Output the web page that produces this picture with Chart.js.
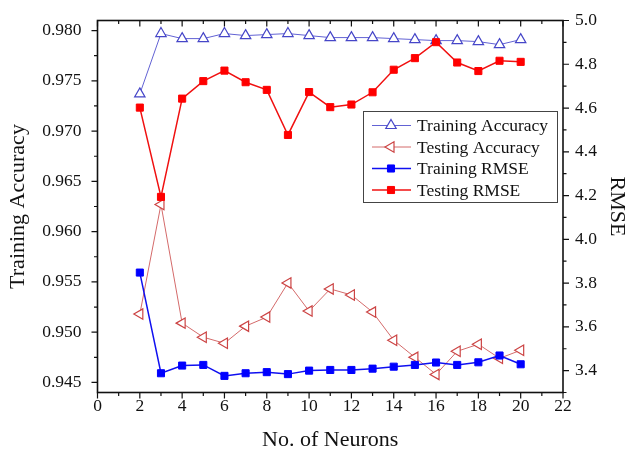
<!DOCTYPE html>
<html>
<head>
<meta charset="utf-8">
<title>No. of Neurons</title>
<script src="https://cdn.jsdelivr.net/npm/chart.js@4.4.1/dist/chart.umd.min.js"></script>
<style>
  html, body { margin: 0; padding: 0; background: #fff; }
  canvas { display: block; }
</style>
</head>
<body>
<canvas id="neuronChart" width="632" height="457"></canvas>
<script>
// accuracy (left axis) and RMSE (right axis) against hidden neuron count
const neurons   = [2, 3, 4, 5, 6, 7, 8, 9, 10, 11, 12, 13, 14, 15, 16, 17, 18, 19, 20];
const trainAcc  = [0.9737, 0.9797, 0.9792, 0.9792, 0.9797, 0.9795, 0.9796, 0.9797, 0.9795, 0.9793,
                   0.9793, 0.9793, 0.9792, 0.9791, 0.9790, 0.9790, 0.9789, 0.9786, 0.9791];
const testAcc   = [0.9518, 0.9627, 0.9509, 0.9495, 0.9489, 0.9506, 0.9515, 0.9549, 0.9521, 0.9543,
                   0.9537, 0.9520, 0.9492, 0.9475, 0.9458, 0.9481, 0.9488, 0.9474, 0.9482];
const trainRmse = [3.848, 3.388, 3.423, 3.426, 3.376, 3.388, 3.393, 3.384, 3.400, 3.403,
                   3.403, 3.409, 3.418, 3.426, 3.437, 3.426, 3.438, 3.469, 3.429];
const testRmse  = [4.602, 4.194, 4.643, 4.723, 4.771, 4.718, 4.683, 4.477, 4.673, 4.604,
                   4.616, 4.672, 4.775, 4.828, 4.901, 4.808, 4.769, 4.816, 4.811];

const xTicks    = [0, 2, 4, 6, 8, 10, 12, 14, 16, 18, 20, 22];
const accTicks  = [0.945, 0.950, 0.955, 0.960, 0.965, 0.970, 0.975, 0.980];
const rmseTicks = [3.4, 3.6, 3.8, 4.0, 4.2, 4.4, 4.6, 4.8, 5.0];

const serif = "'Liberation Serif', 'Times New Roman', serif";
const ink = '#111';

function points(ys) {
  return neurons.map((n, i) => ({ x: n, y: ys[i] }));
}

// major ticks plus the halfway minor ones, kept inside the scale range
function withMinor(major, min, max) {
  const out = major.map(v => ({ v, major: true }));
  for (let i = 0; i < major.length - 1; i++) {
    out.push({ v: (major[i] + major[i + 1]) / 2, major: false });
  }
  const step = major[1] - major[0];
  const lo = major[0] - step / 2, hi = major[major.length - 1] + step / 2;
  if (lo >= min) out.push({ v: lo, major: false });
  if (hi <= max) out.push({ v: hi, major: false });
  return out;
}

// fixed axis boxes, no extra room for overhanging end labels
function fixSize(size) {
  return s => {
    if (s.isHorizontal()) s.height = size; else s.width = size;
    s.paddingTop = s.paddingBottom = s.paddingLeft = s.paddingRight = 0;
  };
}

function drawMarker(ctx, ds, x, y) {
  const r = ds.pointRadius;
  ctx.save();
  ctx.translate(x, y);
  ctx.rotate((ds.pointRotation || 0) * Math.PI / 180);
  ctx.beginPath();
  if (ds.pointStyle === 'triangle') {
    ctx.moveTo(0, -r);
    ctx.lineTo(r * Math.sin(2 * Math.PI / 3), -r * Math.cos(2 * Math.PI / 3));
    ctx.lineTo(r * Math.sin(4 * Math.PI / 3), -r * Math.cos(4 * Math.PI / 3));
  } else {
    const s = r * Math.SQRT1_2;
    ctx.rect(-s, -s, 2 * s, 2 * s);
  }
  ctx.closePath();
  ctx.fillStyle = ds.pointBackgroundColor;
  ctx.fill();
  ctx.lineWidth = ds.pointBorderWidth;
  ctx.strokeStyle = ds.pointBorderColor;
  ctx.stroke();
  ctx.restore();
}

// box round the plot, ticks outward on bottom/left/right, inward on top
const axisFrame = {
  id: 'axisFrame',
  afterDatasetsDraw(chart) {
    const { ctx, chartArea: a, scales } = chart;
    ctx.save();
    ctx.strokeStyle = ink;
    ctx.lineWidth = 1.2;
    ctx.beginPath();
    withMinor(xTicks, 0, 22).forEach(t => {
      const px = scales.x.getPixelForValue(t.v);
      const len = t.major ? 6 : 3.5;
      ctx.moveTo(px, a.bottom); ctx.lineTo(px, a.bottom + len);
      ctx.moveTo(px, a.top);    ctx.lineTo(px, a.top + len);
    });
    withMinor(accTicks, scales.yAcc.min, scales.yAcc.max).forEach(t => {
      const py = scales.yAcc.getPixelForValue(t.v);
      ctx.moveTo(a.left, py); ctx.lineTo(a.left - (t.major ? 6 : 3.5), py);
    });
    withMinor(rmseTicks, scales.yRmse.min, scales.yRmse.max).forEach(t => {
      const py = scales.yRmse.getPixelForValue(t.v);
      ctx.moveTo(a.right, py); ctx.lineTo(a.right + (t.major ? 6 : 3.5), py);
    });
    ctx.stroke();
    ctx.lineWidth = 1.6;
    ctx.strokeRect(a.left, a.top, a.right - a.left, a.bottom - a.top);
    ctx.restore();
  }
};

// legend box inside the plot area, right of centre
const boxLegend = {
  id: 'boxLegend',
  afterDatasetsDraw(chart) {
    const { ctx } = chart;
    const box = { left: 363.5, top: 111.5, right: 557.5, bottom: 202.5 };
    ctx.save();
    ctx.fillStyle = '#fff';
    ctx.fillRect(box.left, box.top, box.right - box.left, box.bottom - box.top);
    ctx.strokeStyle = '#444';
    ctx.lineWidth = 1;
    ctx.strokeRect(box.left, box.top, box.right - box.left, box.bottom - box.top);
    ctx.font = '17.5px ' + serif;
    ctx.textBaseline = 'middle';
    chart.data.datasets.forEach((ds, i) => {
      const y = 125.5 + i * 21.5;
      ctx.beginPath();
      ctx.moveTo(372, y);
      ctx.lineTo(411, y);
      ctx.strokeStyle = ds.borderColor;
      ctx.lineWidth = ds.borderWidth;
      ctx.stroke();
      drawMarker(ctx, ds, 391, y);
      ctx.fillStyle = ink;
      ctx.fillText(ds.label, 417, y + 1);
    });
    ctx.restore();
  }
};

new Chart(document.getElementById('neuronChart'), {
  type: 'line',
  data: {
    datasets: [
      {
        label: 'Training Accuracy',
        data: points(trainAcc),
        yAxisID: 'yAcc',
        order: 1,
        borderColor: '#6262d4',
        borderWidth: 1,
        pointStyle: 'triangle',
        pointRadius: 6,
        pointBackgroundColor: '#fff',
        pointBorderColor: '#4646c8',
        pointBorderWidth: 1.2
      },
      {
        label: 'Testing Accuracy',
        data: points(testAcc),
        yAxisID: 'yAcc',
        order: 1,
        borderColor: '#d46a6a',
        borderWidth: 1,
        pointStyle: 'triangle',
        pointRotation: -90,
        pointRadius: 6,
        pointBackgroundColor: '#fff',
        pointBorderColor: '#cc4444',
        pointBorderWidth: 1.2
      },
      {
        label: 'Training RMSE',
        data: points(trainRmse),
        yAxisID: 'yRmse',
        order: 0,
        borderColor: '#1010f0',
        borderWidth: 1.5,
        pointStyle: 'rect',
        pointRadius: 5,
        pointBackgroundColor: '#0000ff',
        pointBorderColor: '#0000ff',
        pointBorderWidth: 1
      },
      {
        label: 'Testing RMSE',
        data: points(testRmse),
        yAxisID: 'yRmse',
        order: 0,
        borderColor: '#f01010',
        borderWidth: 1.5,
        pointStyle: 'rect',
        pointRadius: 5,
        pointBackgroundColor: '#ff0000',
        pointBorderColor: '#ff0000',
        pointBorderWidth: 1
      }
    ]
  },
  options: {
    responsive: false,
    animation: false,
    layout: { padding: { left: 5, right: 2, top: 20.5, bottom: 4 } },
    plugins: {
      legend: { display: false },
      tooltip: { enabled: false }
    },
    scales: {
      x: {
        type: 'linear',
        position: 'bottom',
        min: 0,
        max: 22,
        afterBuildTicks: s => { s.ticks = xTicks.map(v => ({ value: v })); },
        afterFit: fixSize(60.5),
        grid: { display: false, drawTicks: false },
        border: { display: false },
        ticks: { color: ink, font: { family: serif, size: 17.5 }, padding: 3, autoSkip: false, maxRotation: 0 },
        title: { display: true, text: 'No. of Neurons', color: ink, font: { family: serif, size: 22 }, padding: 0 }
      },
      yAcc: {
        type: 'linear',
        position: 'left',
        min: 0.944,
        max: 0.981,
        afterBuildTicks: s => { s.ticks = accTicks.map(v => ({ value: v })); },
        afterFit: fixSize(92.5),
        grid: { display: false, drawTicks: false },
        border: { display: false },
        ticks: { color: ink, font: { family: serif, size: 17.5 }, padding: 16, autoSkip: false, callback: v => v.toFixed(3) },
        title: { display: true, text: 'Training Accuracy', color: ink, font: { family: serif, size: 22 }, padding: 0 }
      },
      yRmse: {
        type: 'linear',
        position: 'right',
        min: 3.3,
        max: 5.0,
        afterBuildTicks: s => { s.ticks = rmseTicks.map(v => ({ value: v })); },
        afterFit: fixSize(67),
        grid: { display: false, drawTicks: false },
        border: { display: false },
        ticks: { color: ink, font: { family: serif, size: 17.5 }, padding: 12, autoSkip: false, callback: v => v.toFixed(1) },
        title: { display: true, text: 'RMSE', color: ink, font: { family: serif, size: 22 }, padding: 0 }
      }
    }
  },
  plugins: [axisFrame, boxLegend]
});
</script>
</body>
</html>
